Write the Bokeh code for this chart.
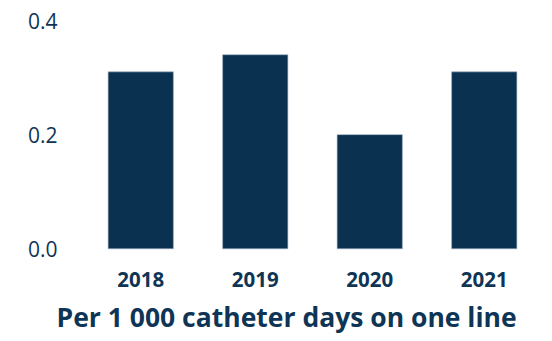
from bokeh.plotting import figure
from bokeh.models import Title, Range1d, FixedTicker, CustomJSTickFormatter
from bokeh.embed import file_html
from bokeh.resources import INLINE

years = ["2018", "2019", "2020", "2021"]
rates = [0.31, 0.34, 0.20, 0.31]
y_ticks = [0.0, 0.2, 0.4]
caption = "Per 1 000 catheter days on one line"

NAVY = "#0a3150"
TEXT = "#0f3556"

# frame: top at 20px, bottom at 291px; zero baseline lands at 250px
p = figure(x_range=years, width=552, height=341, output_backend="svg",
           toolbar_location=None, min_border_left=83, min_border_right=11,
           min_border_top=20, min_border_bottom=50)
p.y_range = Range1d(-0.4 * 41 / 230, 0.4)
p.vbar(x=years, top=rates, width=0.57, fill_color=NAVY, line_color="#9fb2c4", line_width=0.6)

p.outline_line_color = None
p.grid.grid_line_color = None
p.background_fill_color = "white"

p.xaxis.fixed_location = 0
p.yaxis.ticker = FixedTicker(ticks=y_ticks)
p.yaxis.formatter = CustomJSTickFormatter(code="return tick.toFixed(1);")
for ax in (p.xaxis, p.yaxis):
    ax.axis_line_color = None
    ax.major_tick_line_color = None
    ax.minor_tick_line_color = None
    ax.major_label_text_font = "Open Sans"
    ax.major_label_text_color = TEXT
p.yaxis.major_label_text_font_size = "21px"
p.xaxis.major_label_text_font_size = "20.5px"
p.yaxis.major_label_standoff = 20
p.xaxis.major_label_standoff = 17
p.xaxis.major_label_text_font_style = "bold"

t = Title(text=caption, align="left",
          text_font="Open Sans", text_font_size="26.5px", text_font_style="bold",
          text_color=TEXT, offset=-27, standoff=14)
p.add_layout(t, "below")

open("out.html", "w").write(file_html(p, INLINE))
